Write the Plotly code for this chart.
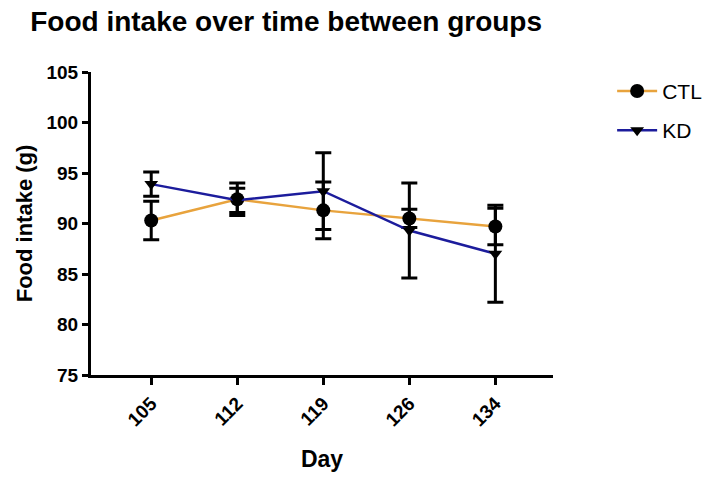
import plotly.graph_objects as go

days = ["105", "112", "119", "126", "134"]
ctl_mean = [90.3, 92.4, 91.3, 90.5, 89.7]
ctl_err = [1.9, 1.6, 2.8, 0.9, 1.8]
kd_mean = [93.9, 92.3, 93.2, 89.3, 87.0]
kd_err = [1.2, 1.2, 3.8, 4.7, 4.8]
y_ticks = [75, 80, 85, 90, 95, 100, 105]

FONT = "Liberation Sans, Arial, sans-serif"

fig = go.Figure()
fig.add_trace(go.Scatter(
    x=days, y=ctl_mean, name="CTL", mode="lines+markers", legendgroup="ctl",
    line=dict(color="#E8A33D", width=2.5),
    marker=dict(symbol="circle", size=14, color="black"),
    error_y=dict(type="data", array=ctl_err, visible=True, color="black", thickness=3, width=8),
))
fig.add_trace(go.Scatter(
    x=days, y=kd_mean, name="KD", mode="lines+markers", legendgroup="kd",
    line=dict(color="#1C1C9C", width=2.5),
    marker=dict(symbol="triangle-down", size=12, color="black"),
    error_y=dict(type="data", array=kd_err, visible=True, color="black", thickness=3, width=8),
))

fig.update_layout(
    width=719, height=480,
    paper_bgcolor="white", plot_bgcolor="white",
    margin=dict(l=91, r=166, t=72, b=103),
    font=dict(family=FONT, color="black"),
    title=dict(text="Food intake over time between groups", x=0.042, xanchor="left",
               y=0.955, yanchor="middle",
               font=dict(size=28, family=FONT, color="black", weight="bold")),
    legend=dict(x=1.128, y=1.004, xanchor="left", yanchor="top",
                font=dict(size=21, family=FONT), itemwidth=40, tracegroupgap=9),
    showlegend=True,
)
fig.update_xaxes(
    type="category", range=[-0.70, 4.67],
    showline=True, linecolor="black", linewidth=3,
    ticks="outside", ticklen=7, tickwidth=3, tickcolor="black",
    tickangle=-45, tickfont=dict(size=19, family=FONT, weight="bold"),
    title=dict(text="Day", font=dict(size=23, family=FONT, weight="bold"), standoff=22),
    showgrid=False, zeroline=False,
)
fig.update_yaxes(
    range=[75, 105], tickvals=y_ticks,
    showline=True, linecolor="black", linewidth=3,
    ticks="outside", ticklen=6, tickwidth=3, tickcolor="black",
    tickfont=dict(size=19, family=FONT, weight="bold"),
    title=dict(text="Food intake (g)", font=dict(size=22, family=FONT, weight="bold"), standoff=8),
    showgrid=False, zeroline=False,
)

fig.write_html("out.html")
